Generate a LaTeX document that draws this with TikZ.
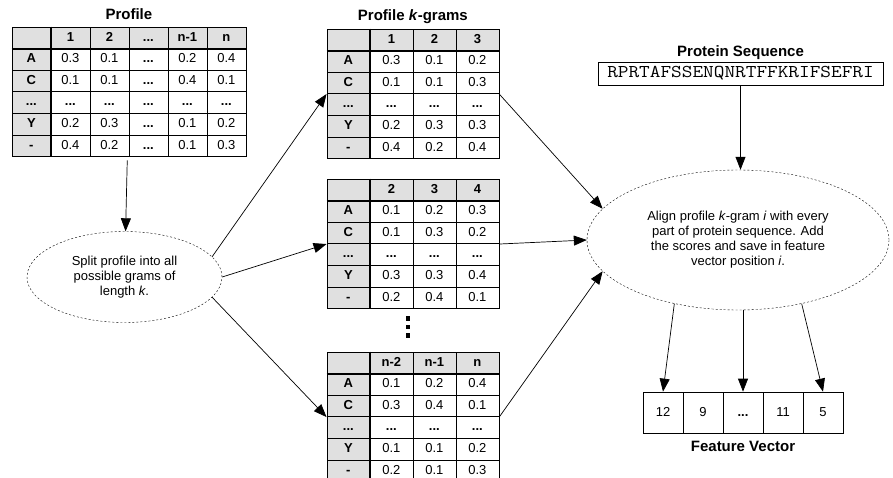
\documentclass[tikz,border=0pt]{standalone}
\usepackage{fontspec}
\setmainfont{Liberation Sans}
\newfontfamily\seqfont[FakeStretch=1.15]{Latin Modern Mono}
\usetikzlibrary{arrows.meta,matrix,positioning,shapes.geometric}
\definecolor{hdgray}{gray}{0.88}
\newcommand{\tabfont}{\fontsize{13}{15}\selectfont}
\newcommand{\headfont}{\fontsize{15}{17}\selectfont\bfseries}
\newcommand{\dd}{\textbf{...}}
% thick rules under the header row and right of the label column
\newcommand{\hdrules}[2]{
    \draw[line width=1.5pt] (#1-1-1.south west) -- (#1-1-#2.south east);
    \draw[line width=1.5pt] (#1-1-1.north east) -- (#1-6-1.south east);
}
\tikzset{
  cell/.style={draw, line width=0.7pt, minimum height=21.6pt, inner sep=0pt,
    text height=9.5pt, text depth=2.5pt, font=\tabfont},
  hd/.style={fill=hdgray, font=\tabfont\bfseries},
  ptable/.style={matrix of nodes, nodes in empty cells, anchor=north west,
    column sep=-0.7pt, row sep=-0.7pt, nodes={cell},
    row 1/.style={nodes={hd}}, column 1/.style={nodes={hd}}},
  title/.style={font=\headfont, inner sep=0pt},
  oval/.style={ellipse, draw, dash pattern=on 2pt off 2pt, inner sep=0pt,
    align=center, font=\tabfont},
  fcell/.style={draw, line width=0.7pt, minimum width=40pt, minimum height=41pt,
    inner sep=0pt, text height=9.5pt, text depth=2.5pt, font=\tabfont},
  arr/.style={-{Triangle[length=13pt,width=10pt]}, line width=0.7pt}
}

\begin{document}
\begin{tikzpicture}[x=1pt,y=-1pt]
    \useasboundingbox (0,0) rectangle (893,478);

    \matrix (prof) [ptable, nodes={minimum width=39pt}] at (8,23) {
          & 1   & 2   & \dd & n-1 & n   \\
        A & 0.3 & 0.1 & \dd & 0.2 & 0.4 \\
        C & 0.1 & 0.1 & \dd & 0.4 & 0.1 \\
      \dd & \dd & \dd & \dd & \dd & \dd \\
        Y & 0.2 & 0.3 & \dd & 0.1 & 0.2 \\
        - & 0.4 & 0.2 & \dd & 0.1 & 0.3 \\
    };
    \hdrules{prof}{6}
    \node[title, above=3pt of prof, anchor=base] (proftitle) {Profile};

    \matrix (t1) [ptable, nodes={minimum width=43pt}] at (323,25) {
          & 1   & 2   & 3   \\
        A & 0.3 & 0.1 & 0.2 \\
        C & 0.1 & 0.1 & 0.3 \\
      \dd & \dd & \dd & \dd \\
        Y & 0.2 & 0.3 & 0.3 \\
        - & 0.4 & 0.2 & 0.4 \\
    };
    \hdrules{t1}{4}
    \node[title, above=4pt of t1, anchor=base] (gramtitle) {Profile \textit{k}-grams};

    \matrix (t2) [ptable, nodes={minimum width=43pt}] at (323,175) {
          & 2   & 3   & 4   \\
        A & 0.1 & 0.2 & 0.3 \\
        C & 0.1 & 0.3 & 0.2 \\
      \dd & \dd & \dd & \dd \\
        Y & 0.3 & 0.3 & 0.4 \\
        - & 0.2 & 0.4 & 0.1 \\
    };
    \hdrules{t2}{4}

    \foreach \y in {316,324.5,333}
        \fill (405.5,\y) rectangle +(4.5,4.5);

    \matrix (t3) [ptable, nodes={minimum width=43pt}] at (323,348) {
          & n-2 & n-1 & n   \\
        A & 0.1 & 0.2 & 0.4 \\
        C & 0.3 & 0.4 & 0.1 \\
      \dd & \dd & \dd & \dd \\
        Y & 0.1 & 0.1 & 0.2 \\
        - & 0.2 & 0.1 & 0.3 \\
    };
    \hdrules{t3}{4}

    \node[oval, minimum width=195pt, minimum height=91pt] (split) at (124.5,277)
        {Split profile into all\\possible grams of\\length \textit{k}.};

    \node[draw, line width=0.7pt, minimum width=285pt, minimum height=23pt, inner sep=0pt,
        font={\seqfont\fontsize{18}{20}\selectfont}] (seq) at (740.5,73.5)
        {RPRTAFSSENQNRTFFKRIFSEFRI};
    \node[title, above=5pt of seq, anchor=base] (seqtitle) {Protein Sequence};

    \node[oval, minimum width=302pt, minimum height=140pt] (align) at (738,240)
        {Align profile \textit{k}-gram \textit{i} with every\\part of protein sequence. Add\\the scores and save in feature\\vector position \textit{i}.};

    \matrix (fv) [matrix of nodes, column sep=-0.7pt, nodes={fcell}] at (743,412.5) {
        12 & 9 & \dd & 11 & 5 \\
    };
    \node[title, below=4pt of fv] (fvtitle) {Feature Vector};

    \draw[arr] (prof) -- (split);
    \draw[arr] (split.13) -- (t1-3-1.south west);
    \draw[arr] (split.east) -- (t2-3-1.south west);
    \draw[arr] (split.-13) -- (t3-3-1.south west);
    \draw[arr] (t1-3-4.south east) -- (align.167);
    \draw[arr] (t2-3-4.south east) -- (align.west);
    \draw[arr] (t3-3-4.south east) -- (align.193);
    \draw[arr] (seq.south) -- (seq.south |- align.north);
    \draw[arr] (align.-135) -- (fv-1-1.north);
    \draw[arr] (align.south -| fv-1-3.north) -- (fv-1-3.north);
    \draw[arr] (align.-45) -- (fv-1-5.north);
\end{tikzpicture}
\end{document}
